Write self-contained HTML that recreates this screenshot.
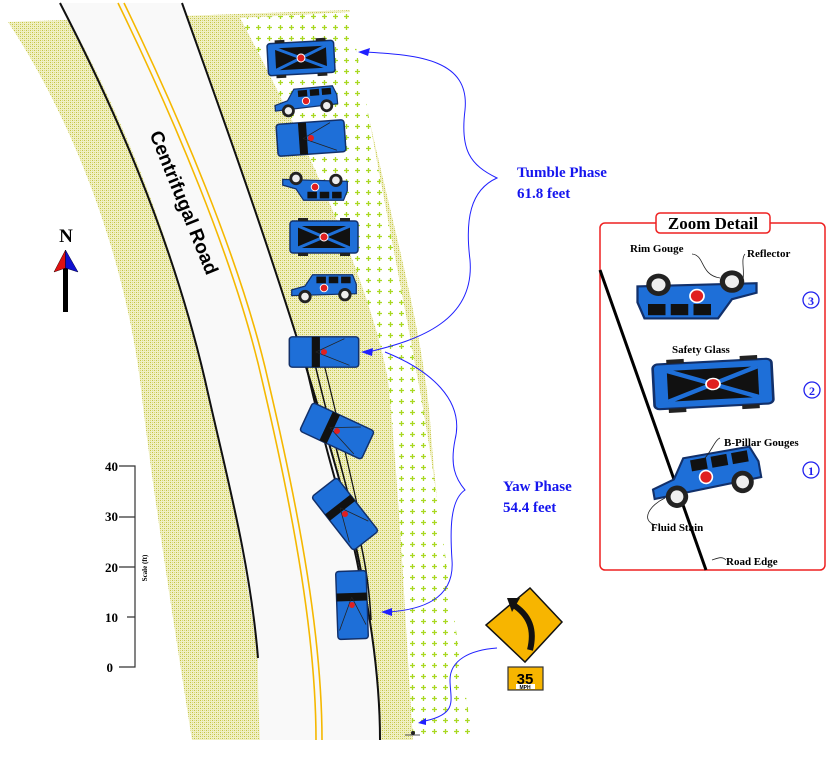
<!DOCTYPE html>
<html><head><meta charset="utf-8"><style>
html,body{margin:0;padding:0;background:#fff;}
svg{display:block;}
.t{font-family:"Liberation Serif",serif;font-weight:bold;}
</style></head><body>
<svg width="837" height="760" viewBox="0 0 837 760" xmlns="http://www.w3.org/2000/svg">
<defs>
<pattern id="yel" width="4" height="4" patternUnits="userSpaceOnUse">
<rect width="4" height="4" fill="#f0f0c4"/>
<rect x="0" y="0" width="1" height="1" fill="#c4c440"/>
<rect x="2" y="2" width="1" height="1" fill="#c4c440"/>
<rect x="2" y="0" width="1" height="1" fill="#d8d880"/>
<rect x="0" y="2" width="1" height="1" fill="#d8d880"/>
</pattern>
<pattern id="grn" width="11" height="11" patternUnits="userSpaceOnUse">
<rect width="11" height="11" fill="#fff"/>
<path d="M3 5.5h5M5.5 3v5" stroke="#a8d820" stroke-width="1.3"/>
</pattern>
<g id="top">
<rect x="-34" y="-16" width="68" height="32" rx="3" fill="#1e6fd8" stroke="#12306a" stroke-width="1.5"/>
<rect x="-26" y="-11" width="52" height="22" fill="#111"/>
<path d="M-26 -11L26 11M-26 11L26 -11" stroke="#1e6fd8" stroke-width="3"/>
<rect x="-26" y="-19" width="10" height="3" fill="#222"/><rect x="16" y="-19" width="10" height="3" fill="#222"/>
<rect x="-26" y="16" width="10" height="3" fill="#222"/><rect x="16" y="16" width="10" height="3" fill="#222"/>
<circle r="4" fill="#e02020" stroke="#fff" stroke-width="1"/>
</g>
<g id="up">
<rect x="-34" y="-16" width="68" height="32" rx="3" fill="#1e6fd8" stroke="#12306a" stroke-width="1.5"/>
<rect x="-12" y="-16" width="8" height="32" fill="#111"/>
<path d="M-8 0L20 -14M-8 0L25 14" stroke="#222" stroke-width="0.8"/>
<circle r="3" fill="#e02020"/>
</g>
<g id="side">
<path d="M-34 2 L-20 -2 L-12 -14 L30 -14 L34 -4 L34 6 L-34 8Z" fill="#1e6fd8" stroke="#12306a" stroke-width="1.3"/>
<rect x="-8" y="-12" width="10" height="7" fill="#111"/><rect x="5" y="-12" width="10" height="7" fill="#111"/><rect x="18" y="-12" width="10" height="7" fill="#111"/>
<circle cx="-20" cy="9" r="7" fill="#222"/><circle cx="-20" cy="9" r="4" fill="#eee"/>
<circle cx="22" cy="7" r="7" fill="#222"/><circle cx="22" cy="7" r="4" fill="#eee"/>
<circle cx="0" cy="0" r="4" fill="#e02020" stroke="#fff" stroke-width="1"/>
</g>
</defs>

<path d="M8 22 L350 10 L350 20 C370 150 420 300 430 420 C440 560 460 650 470 740 L192 740 C170 600 150 470 140 380 C120 230 60 100 8 22Z" fill="url(#yel)"/>
<path d="M240 18 L350 12 C372 140 400 280 418 380 C435 470 450 600 473 740 L413 740 C405 620 400 500 388 380 C370 280 300 130 240 18Z" fill="url(#grn)"/>
<path d="M60 3 L182 3 C220 110 290 300 345 500 C370 600 380 680 380 740 L260 740 C258 700 258 680 258 658 C240 520 215 420 205 380 C170 230 120 110 60 3Z" fill="#f9f9f9"/>
<path d="M60 3 C110 100 170 230 205 380 C225 470 250 560 258 658" fill="none" stroke="#111" stroke-width="2"/>
<path d="M182 3 C220 110 290 300 345 500 C370 600 380 680 380 740" fill="none" stroke="#111" stroke-width="2"/>
<path d="M118 3 C170 110 235 260 262 380 C295 520 316 640 316 740" fill="none" stroke="#f5b800" stroke-width="1.6"/>
<path d="M124 3 C176 110 241 260 268 380 C301 520 322 640 322 740" fill="none" stroke="#f5b800" stroke-width="1.6"/>
<path d="M305 360 C318 420 335 480 352 540 C360 570 364 600 366 630" fill="none" stroke="#111" stroke-width="2"/>
<path d="M314 360 C328 420 345 480 360 540 C367 570 370 600 371 620" fill="none" stroke="#111" stroke-width="1.5"/>
<path d="M323 360 C338 420 352 480 365 540" fill="none" stroke="#111" stroke-width="1.2"/>

<text font-weight="bold" font-size="19" transform="translate(178,205) rotate(68)" text-anchor="middle" style="font-family:'Liberation Sans',sans-serif">Centrifugal Road</text>

<use href="#top" transform="translate(301,58) rotate(-3) scale(0.98,1)"/>
<use href="#side" transform="translate(306,101) rotate(-5) scale(0.92)"/>
<use href="#up" transform="translate(311,138) rotate(-4)"/>
<use href="#side" transform="translate(315,187) rotate(180) scale(-1,1) scale(0.95)"/>
<use href="#top" transform="translate(324,237)"/>
<use href="#side" transform="translate(324,288) scale(0.95)"/>
<use href="#up" transform="translate(324,352) scale(1.02,0.95)"/>
<use href="#up" transform="translate(337,431) rotate(25) scale(1,0.98)"/>
<use href="#up" transform="translate(345,514) rotate(52)"/>
<use href="#up" transform="translate(352,605) rotate(88) scale(1,0.95)"/>

<g fill="none" stroke="#2020ff" stroke-width="1">
<path d="M365 52 C420 55 470 60 465 110 C460 150 470 165 497 178 C470 190 465 220 470 260 C475 320 420 340 368 352"/>
<path d="M385 352 C430 370 465 400 455 440 C450 465 455 478 465 490 C450 500 450 530 452 560 C455 600 420 610 388 612"/>
<path d="M497 648 C470 650 450 660 450 680 C450 700 460 715 420 722"/>
</g>
<g fill="#2020ff">
<path d="M358 52 L370 48 L368 56Z"/>
<path d="M361 352 L373 348 L372 356Z"/>
<path d="M381 612 L392 608 L392 616Z"/>
<path d="M418 723 L426 718 L426 725Z"/>
</g>
<text class="t" x="517" y="177" font-size="15" fill="#1515ee">Tumble Phase</text>
<text class="t" x="517" y="198" font-size="15" fill="#1515ee">61.8 feet</text>
<text class="t" x="503" y="491" font-size="15" fill="#1515ee">Yaw Phase</text>
<text class="t" x="503" y="512" font-size="15" fill="#1515ee">54.4 feet</text>

<text class="t" x="66" y="242" font-size="19" text-anchor="middle">N</text>
<rect x="63" y="262" width="5" height="50" fill="#000"/>
<path d="M65.5 250 L54 272 L65.5 268Z" fill="#e01010" stroke="#300" stroke-width="0.5"/>
<path d="M65.5 250 L78 272 L65.5 268Z" fill="#1010d0" stroke="#003" stroke-width="0.5"/>

<g stroke="#333" stroke-width="1.2" fill="none">
<path d="M119 466 H135 V667 H119"/>
<path d="M119 517 H135 M119 567 H135 M127 617 H135"/>
</g>
<g class="t" font-size="13" text-anchor="end">
<text x="118" y="471">40</text><text x="118" y="521">30</text><text x="118" y="572">20</text><text x="118" y="622">10</text><text x="113" y="672">0</text>
</g>
<text class="t" font-size="7" transform="translate(147,568) rotate(-90)" text-anchor="middle">Scale (ft)</text>

<path d="M405 735 H420" stroke="#555" stroke-width="1"/>
<circle cx="413" cy="733" r="2" fill="#222"/>

<path d="M530 588 L562 622 L525 662 L486 625Z" fill="#f7b500" stroke="#111" stroke-width="1.5"/>
<path d="M530 650 C535 630 530 615 512 604" fill="none" stroke="#111" stroke-width="6"/>
<path d="M507 598 L520 598 L512 612Z" fill="#111"/>
<rect x="508" y="667" width="35" height="23" fill="#f7b500" stroke="#333" stroke-width="1.2"/>
<text x="525" y="684" font-family="Liberation Sans,sans-serif" font-weight="bold" font-size="15" text-anchor="middle">35</text>
<rect x="516" y="684" width="19" height="5" fill="#fff"/>
<text x="525" y="689" font-family="Liberation Sans,sans-serif" font-weight="bold" font-size="5" text-anchor="middle">MPH</text>

<rect x="600" y="223" width="225" height="347" rx="5" fill="#fff" stroke="#ee2020" stroke-width="1.5"/>
<rect x="656" y="213" width="114" height="20" rx="4" fill="#fff" stroke="#ee2020" stroke-width="1.5"/>
<text class="t" x="713" y="229" font-size="17" text-anchor="middle">Zoom Detail</text>
<path d="M600 270 L706 570" stroke="#000" stroke-width="3"/>
<use href="#side" transform="translate(697,296) scale(-1.75,-1.6)"/>
<use href="#top" transform="translate(713,384) rotate(-3) scale(1.75,1.4)"/>
<use href="#side" transform="translate(706,477) rotate(-10) scale(1.6)"/>
<g fill="none" stroke="#222" stroke-width="0.8">
<path d="M692 254 C705 255 700 275 720 278"/>
<path d="M745 254 C740 260 746 272 742 285"/>
<path d="M720 438 C715 440 712 450 705 458"/>
<path d="M655 525 C640 520 650 505 665 498"/>
<path d="M712 560 C718 558 722 556 726 560"/>
</g>
<g class="t" font-size="11">
<text x="630" y="252">Rim Gouge</text>
<text x="747" y="257">Reflector</text>
<text x="672" y="353">Safety Glass</text>
<text x="724" y="446">B-Pillar Gouges</text>
<text x="651" y="531">Fluid Stain</text>
<text x="726" y="565">Road Edge</text>
</g>
<g fill="#fff" stroke="#2020ee" stroke-width="1.3">
<circle cx="811" cy="300" r="8"/><circle cx="812" cy="390" r="8"/><circle cx="811" cy="470" r="8"/>
</g>
<g class="t" font-size="12" fill="#2020ee" text-anchor="middle">
<text x="811" y="305">3</text><text x="812" y="395">2</text><text x="811" y="475">1</text>
</g>
</svg>
</body></html>
